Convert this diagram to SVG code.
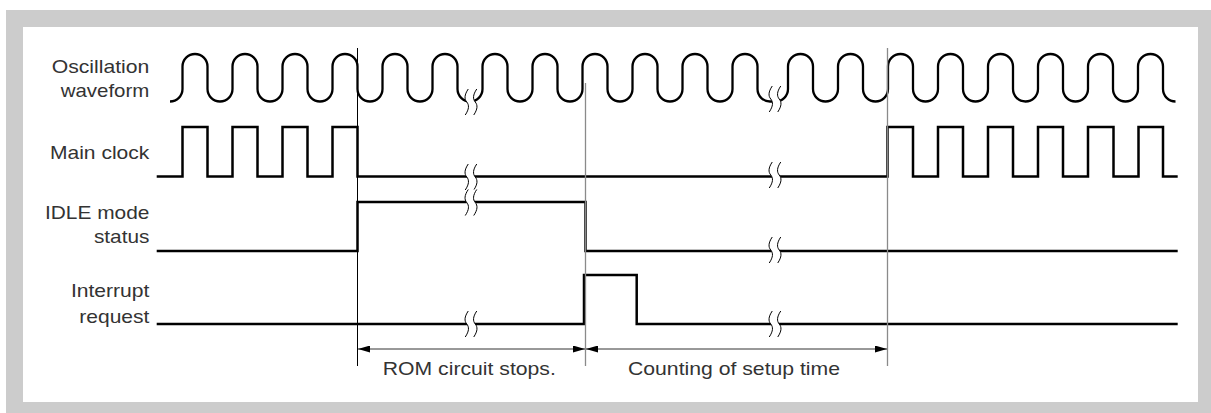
<svg xmlns="http://www.w3.org/2000/svg" width="1211" height="413" viewBox="0 0 1211 413">
<style>
.lbl{font-family:"Liberation Sans",Arial,Helvetica,sans-serif;font-size:18.6px;fill:#333}
.end{text-anchor:end}
.sig{fill:none;stroke:#000;stroke-width:2.5;stroke-linejoin:miter;stroke-linecap:butt}
.wave{fill:none;stroke:#000;stroke-width:2.3}
.vblk{stroke:#000;stroke-width:1}
.vgry{stroke:#8a8a8a;stroke-width:1.3}
.dim{stroke:#333;stroke-width:1}
.brkc{fill:none;stroke:#000;stroke-width:1}
</style>
<defs>
<marker id="ah" viewBox="0 0 12 7" refX="12" refY="3.5" markerWidth="12" markerHeight="7" markerUnits="userSpaceOnUse" orient="auto-start-reverse">
<path d="M0,0 L12,3.5 L0,7 Z" fill="#000"/>
</marker>
<g id="brk">
<path d="M-2.75,-13 C-6.75,-7 -6.75,-3 -4.25,0 C-1.75,3 -1.75,7 -5.75,13 L2.75,13 C6.75,7 6.75,3 4.25,0 C1.75,-3 1.75,-7 5.75,-13 Z" fill="#fff"/>
<path class="brkc" d="M-2.75,-13 C-6.75,-7 -6.75,-3 -4.25,0 C-1.75,3 -1.75,7 -5.75,13"/>
<path class="brkc" d="M5.75,-13 C1.75,-7 1.75,-3 4.25,0 C6.75,3 6.75,7 2.75,13"/>
</g>
</defs>
<rect x="6" y="10" width="1205" height="403" fill="#cccccc"/>
<rect x="23" y="27" width="1175" height="375" fill="#ffffff"/>

<g id="oscillation">
<text class="lbl end" x="149.3" y="72.7" textLength="97.6" lengthAdjust="spacingAndGlyphs">Oscillation</text>
<text class="lbl end" x="149.3" y="97.3" textLength="88.6" lengthAdjust="spacingAndGlyphs">waveform</text>
<path class="wave" d="M170,101.5 A12.5,12.5 0 0 0 182.5,89
V66.5 A12.5,12.5 0 0 1 207.5,66.5 V89 A12.5,12.5 0 0 0 232.5,89
V66.5 A12.5,12.5 0 0 1 257.5,66.5 V89 A12.5,12.5 0 0 0 282.5,89
V66.5 A12.5,12.5 0 0 1 307.5,66.5 V89 A12.5,12.5 0 0 0 332.5,89
V66.5 A12.5,12.5 0 0 1 357.5,66.5 V89 A12.5,12.5 0 0 0 382.5,89
V66.5 A12.5,12.5 0 0 1 407.5,66.5 V89 A12.5,12.5 0 0 0 432.5,89
V66.5 A12.5,12.5 0 0 1 457.5,66.5 V89 A12.5,12.5 0 0 0 482.5,89
V66.5 A12.5,12.5 0 0 1 507.5,66.5 V89 A12.5,12.5 0 0 0 532.5,89
V66.5 A12.5,12.5 0 0 1 557.5,66.5 V89 A12.5,12.5 0 0 0 582.5,89
V66.5 A12.5,12.5 0 0 1 607.5,66.5 V89 A12.5,12.5 0 0 0 632.5,89
V66.5 A12.5,12.5 0 0 1 657.5,66.5 V89 A12.5,12.5 0 0 0 682.5,89
V66.5 A12.5,12.5 0 0 1 707.5,66.5 V89 A12.5,12.5 0 0 0 732.5,89
V66.5 A12.5,12.5 0 0 1 757.5,66.5 V89 A12.5,12.5 0 0 0 770,101.5 L775.5,101.5 A12.5,12.5 0 0 0 788,89
V66.5 A12.5,12.5 0 0 1 813,66.5 V89 A12.5,12.5 0 0 0 838,89
V66.5 A12.5,12.5 0 0 1 863,66.5 V89 A12.5,12.5 0 0 0 888,89
V66.5 A12.5,12.5 0 0 1 913,66.5 V89 A12.5,12.5 0 0 0 938,89
V66.5 A12.5,12.5 0 0 1 963,66.5 V89 A12.5,12.5 0 0 0 988,89
V66.5 A12.5,12.5 0 0 1 1013,66.5 V89 A12.5,12.5 0 0 0 1038,89
V66.5 A12.5,12.5 0 0 1 1063,66.5 V89 A12.5,12.5 0 0 0 1088,89
V66.5 A12.5,12.5 0 0 1 1113,66.5 V89 A12.5,12.5 0 0 0 1138,89
V66.5 A12.5,12.5 0 0 1 1163,66.5 V89 A12.5,12.5 0 0 0 1175.5,101.5"/>
</g>

<g id="main-clock">
<text class="lbl end" x="149.3" y="158.7" textLength="99.3" lengthAdjust="spacingAndGlyphs">Main clock</text>
<path class="sig" d="M156.7,176.5 H182.5 V127 H207.5 V176.5 H232.5 V127 H257.5 V176.5 H282.5 V127 H307.5 V176.5 H332.5 V127 H357.5 V176.5 H887.5 V127 H913 V176.5 H938 V127 H963 V176.5 H988 V127 H1013 V176.5 H1038 V127 H1063 V176.5 H1088 V127 H1113.5 V176.5 H1138.5 V127 H1163 V176.5 H1177.7"/>
</g>

<g id="idle-mode-status">
<text class="lbl end" x="149.4" y="219.3" textLength="104.5" lengthAdjust="spacingAndGlyphs">IDLE mode</text>
<text class="lbl end" x="149.4" y="242.7" textLength="55.5" lengthAdjust="spacingAndGlyphs">status</text>
<path class="sig" d="M156.7,251 H357.5 V202 H585.5 V251 H1177.7"/>
</g>

<g id="interrupt-request">
<text class="lbl end" x="149.4" y="296.7" textLength="78.5" lengthAdjust="spacingAndGlyphs">Interrupt</text>
<text class="lbl end" x="149.4" y="322.7" textLength="70.1" lengthAdjust="spacingAndGlyphs">request</text>
<path class="sig" d="M156.7,324 H584 V275 H636.7 V324 H1177.7"/>
</g>

<g id="breaks">
<use href="#brk" x="471" y="102"/>
<use href="#brk" x="471" y="177"/>
<use href="#brk" x="471" y="202.5"/>
<use href="#brk" x="471" y="324"/>
<use href="#brk" x="775" y="99"/>
<use href="#brk" x="775" y="175"/>
<use href="#brk" x="775" y="250"/>
<use href="#brk" x="775" y="324"/>
</g>

<g id="connectors">
<line class="vblk" x1="357.5" y1="48" x2="357.5" y2="366"/>
<line class="vgry" x1="585.5" y1="83" x2="585.5" y2="366"/>
<line class="vgry" x1="887.5" y1="48" x2="887.5" y2="366"/>
<line class="dim" x1="358" y1="349" x2="585" y2="349" marker-start="url(#ah)" marker-end="url(#ah)"/>
<line class="dim" x1="586" y1="349" x2="887" y2="349" marker-start="url(#ah)" marker-end="url(#ah)"/>
</g>

<g id="dimension-labels">
<text class="lbl" x="382.8" y="375" textLength="173" lengthAdjust="spacingAndGlyphs">ROM circuit stops.</text>
<text class="lbl" x="628" y="375" textLength="212" lengthAdjust="spacingAndGlyphs">Counting of setup time</text>
</g>
</svg>
